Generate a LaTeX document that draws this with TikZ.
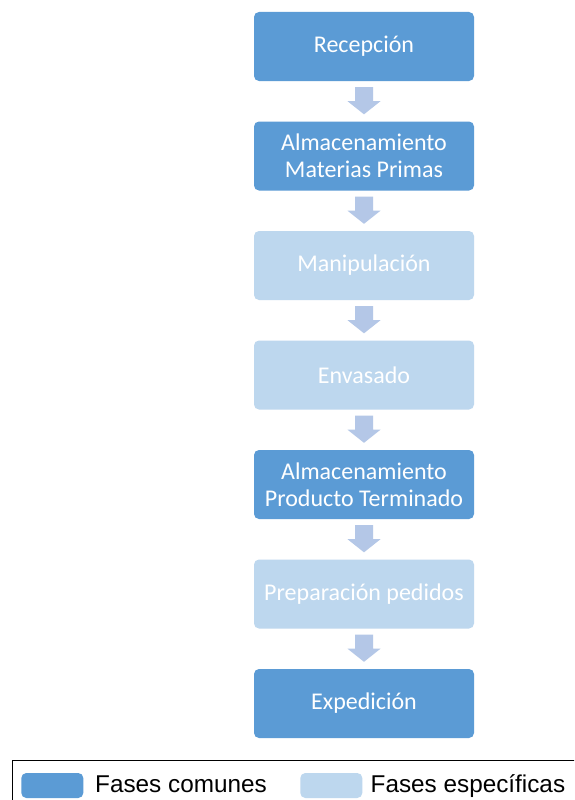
\documentclass[tikz,border=0pt]{standalone}
\usepackage{fontspec}
\setmainfont{Carlito}
\newfontfamily\legfont{Liberation Sans}
\usetikzlibrary{calc}
\definecolor{darkb}{HTML}{5B9BD5}
\definecolor{lightb}{HTML}{BDD7EE}
\definecolor{arrowc}{HTML}{B4C7E7}
\tikzset{
  phase/.style={minimum width=220pt, minimum height=69pt, rounded corners=5pt,
    text=white, align=center, inner sep=0pt, font=\fontsize{24}{27}\selectfont},
  common/.style={phase, fill=darkb},
  specific/.style={phase, fill=lightb},
  swatch/.style={minimum width=62pt, minimum height=25pt, rounded corners=5pt, inner sep=0pt},
  legtext/.style={anchor=base west, inner sep=0pt, font=\legfont\fontsize{24.3}{28}\selectfont}
}
\begin{document}
\begin{tikzpicture}[x=1pt,y=-1pt]
\useasboundingbox (0,0) rectangle (574,800);
\clip (0,0) rectangle (574,800);
\fill[white] (0,0) rectangle (574,800);
\node[common]   (n1) at (364,46.5)  {Recepción};
\node[common]   (n2) at (364,156)   {Almacenamiento\\Materias Primas};
\node[specific] (n3) at (364,265.5) {Manipulación};
\node[specific] (n4) at (364,375)   {Envasado};
\node[common]   (n5) at (364,484.5) {Almacenamiento\\Producto Terminado};
\node[specific] (n6) at (364,594)   {Preparación pedidos};
\node[common]   (n7) at (364,703.5) {Expedición};
\foreach \a/\b in {n1/n2,n2/n3,n3/n4,n4/n5,n5/n6,n6/n7}{
  \fill[arrowc] ($(\a.south)+(-9,6)$) -- ($(\a.south)+(9,6)$) -- ($(\a.south)+(9,20)$)
    -- ($(\a.south)+(16.5,20)$) -- ($(\b.north)+(0,-7)$) -- ($(\a.south)+(-16.5,20)$)
    -- ($(\a.south)+(-9,20)$) -- cycle;
}
\draw[black, line width=1.2pt] (12.5,760.5) rectangle (600,830);
\node[swatch, fill=darkb]  (s1) at (52.3,785.5) {};
\node[legtext] (t1) at (95,792.5) {Fases comunes};
\node[swatch, fill=lightb] (s2) at (331.3,785.5) {};
\node[legtext] (t2) at (370.5,792.5) {Fases específicas};
\end{tikzpicture}
\end{document}
